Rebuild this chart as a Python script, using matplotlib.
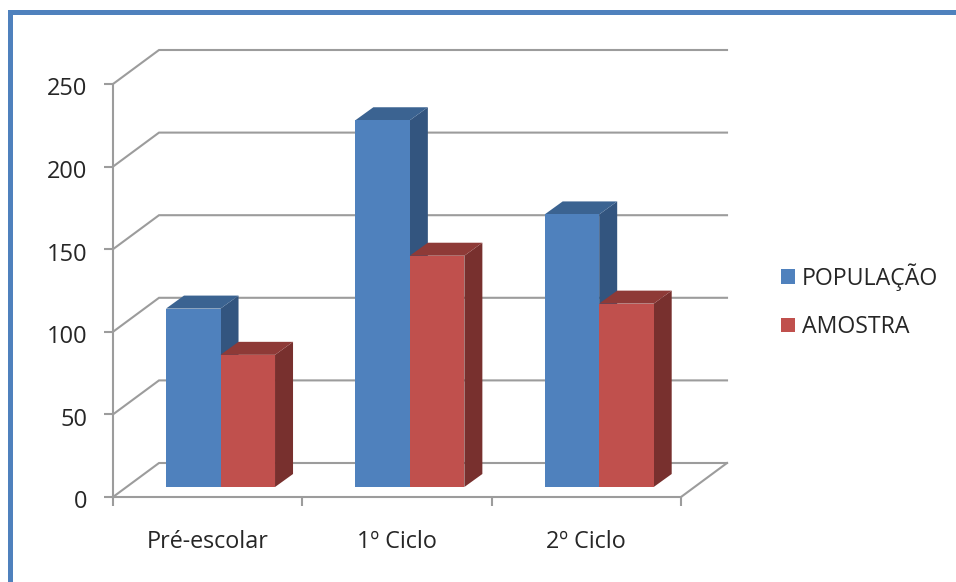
import matplotlib
matplotlib.use("Agg")
import numpy as np
import matplotlib.pyplot as plt
from matplotlib.patches import Patch, Polygon, Rectangle
from matplotlib.transforms import ScaledTranslation

plt.rcParams['font.family'] = ['Open Sans', 'DejaVu Sans']

categories = ['Pré-escolar', '1º Ciclo', '2º Ciclo']
populacao = [108, 222, 165]
amostra = [80, 140, 111]
y_ticks = [0, 50, 100, 150, 200, 250]

BLUE = ('#4f81bd', '#33557f', '#3b6391')
RED = ('#c0504d', '#78302e', '#8e3a37')
GRID = '#9c9c9c'
TEXT = '#262626'

W, H = 956, 582
# 3d look: how far the back wall sits behind the front plane, in data units
wall_dx = 46 / 189.3
wall_dy = 34 / 1.652
# bars stand a little in front of the wall and have their own depth
bar_off_x = 13 / 189.3
bar_off_y = 10 / 1.652
bar_dx = 18 / 189.3
bar_dy = 13 / 1.652
bar_w = 54.5 / 189.3
gap = 40 / 189.3


def box(ax, x, v, cols):
    x0 = x
    x1 = x + bar_w
    y0 = bar_off_y
    y1 = bar_off_y + v
    ax.add_patch(Polygon([(x1, y0), (x1 + bar_dx, y0 + bar_dy), (x1 + bar_dx, y1 + bar_dy), (x1, y1)],
                         fc=cols[1], ec='none', zorder=3, clip_on=False))
    ax.add_patch(Polygon([(x0, y1), (x0 + bar_dx, y1 + bar_dy), (x1 + bar_dx, y1 + bar_dy), (x1, y1)],
                         fc=cols[2], ec='none', zorder=3, clip_on=False))
    ax.bar(x0, v, width=bar_w, bottom=y0, align='edge', color=cols[0], zorder=3, clip_on=False)


fig = plt.figure(figsize=(W / 100, H / 100), dpi=100)
ax = fig.add_axes([113 / W, 1 - 497 / H, (681 - 113) / W, (497 - 84) / H])
ax.set_xlim(0, 3)
ax.set_ylim(0, 250)
ax.patch.set_alpha(0)

# wall gridlines, running back from the value axis and then across
xmax = 3 + wall_dx
for t in y_ticks:
    ax.plot([0, wall_dx, xmax], [t, t + wall_dy, t + wall_dy], color=GRID, lw=1.5,
            zorder=1, clip_on=False, solid_joinstyle='miter')
# right edge of the floor
ax.plot([3, xmax], [0, wall_dy], color=GRID, lw=1.5, zorder=1, clip_on=False)

for i in range(len(categories)):
    start = i + bar_off_x + gap
    box(ax, start, populacao[i], BLUE)
    box(ax, start + bar_w, amostra[i], RED)

for s in ['top', 'right']:
    ax.spines[s].set_visible(False)
for s in ['left', 'bottom']:
    ax.spines[s].set_color(GRID)
    ax.spines[s].set_linewidth(1.5)
    ax.spines[s].set_zorder(2)

ax.set_yticks(y_ticks)
ax.set_xticks(np.arange(4))
ax.set_xticklabels([])
ax.set_xticks(np.arange(3) + 0.5, minor=True)
ax.set_xticklabels(categories, minor=True)
ax.tick_params(axis='both', which='major', color=GRID, width=1.5, length=6.5)
ax.tick_params(axis='y', labelsize=17, labelcolor=TEXT, pad=12)
ax.tick_params(axis='x', which='minor', length=0, labelsize=16.8, labelcolor=TEXT, pad=24)

# value labels sit slightly below their ticks
nudge = ScaledTranslation(0, -2.5 / 100, fig.dpi_scale_trans)
for lab in ax.get_yticklabels():
    lab.set_transform(lab.get_transform() + nudge)

handles = [Patch(fc=BLUE[0], label='POPULAÇÃO'), Patch(fc=RED[0], label='AMOSTRA')]
fig.legend(handles=handles, loc='center left', bbox_to_anchor=(760 / W, 1 - 301 / H), frameon=False,
           fontsize=16.7, labelcolor=TEXT, handlelength=0.6, handleheight=0.6,
           handletextpad=0.3, labelspacing=1.06)

# blue frame along the top and left edges
fig.add_artist(Rectangle((8 / W, 0), 5 / W, 1 - 10 / H, transform=fig.transFigure, fc=BLUE[0], ec='none'))
fig.add_artist(Rectangle((8 / W, 1 - 15 / H), 1 - 8 / W, 5 / H, transform=fig.transFigure, fc=BLUE[0], ec='none'))

fig.savefig('out.png', dpi=100)
